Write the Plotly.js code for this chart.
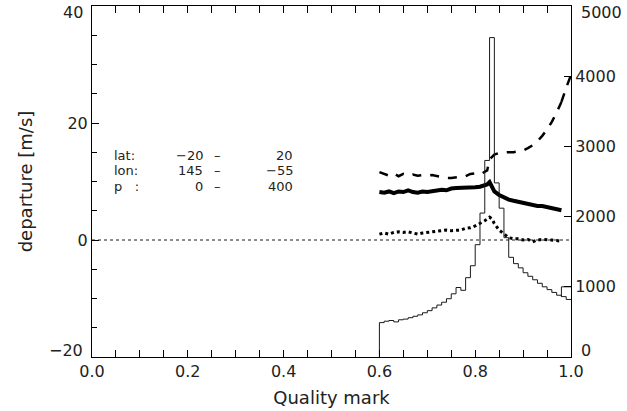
<!DOCTYPE html>
<html>
<head>
<meta charset="utf-8">
<script src="https://cdn.plot.ly/plotly-3.0.1.min.js"></script>
<style>html,body{margin:0;padding:0;background:#fff;}#chart{width:627px;height:411px;}</style>
</head>
<body>
<div id="chart"></div>
<script>
// Histogram: bin edges (width 0.01) and counts per bin (right axis)
const histEdges = [0.60,0.61,0.62,0.63,0.64,0.65,0.66,0.67,0.68,0.69,0.70,0.71,0.72,0.73,0.74,0.75,0.76,0.77,0.78,0.79,0.80,0.81,0.82,0.83,0.84,0.85,0.86,0.87,0.88,0.89,0.90,0.91,0.92,0.93,0.94,0.95,0.96,0.97,0.98,0.99,1.00];
const histCounts = [490,510,520,500,530,540,560,580,600,630,660,700,740,780,830,900,990,950,1130,1300,1600,2050,2800,4550,2480,2120,1700,1420,1330,1270,1200,1150,1100,1050,1000,960,920,880,860,820];
const lastBinX = [0.98,0.98,1.00];
const lastBinY = [860,1000,1000];

// Departure curves (left axis)
const qx = [0.60,0.61,0.62,0.63,0.64,0.65,0.66,0.67,0.68,0.69,0.70,0.71,0.72,0.73,0.74,0.75,0.76,0.77,0.78,0.79,0.80,0.81,0.82,0.825,0.83,0.835,0.84,0.85,0.86,0.87,0.88,0.89,0.90,0.91,0.92,0.93,0.94,0.95,0.96,0.97,0.98];
const dashedY = [11.6,11.3,11.0,11.4,10.9,11.3,11.0,11.2,11.0,11.1,11.0,11.1,10.9,10.7,10.6,10.6,10.7,10.8,10.9,11.3,11.4,11.2,11.6,11.9,13.8,14.3,14.6,14.9,15.0,15.0,15.0,15.1,15.3,15.7,16.2,16.9,17.8,18.9,20.2,21.8,23.6];
const dashedTailX = [0.98,0.99,1.00];
const dashedTailY = [23.6,26.0,28.2];
const solidY = [8.2,8.1,8.3,8.0,8.3,8.2,8.5,8.2,8.1,8.3,8.2,8.3,8.4,8.6,8.5,8.8,8.9,8.9,9.0,9.0,9.0,9.1,9.3,9.5,9.9,9.2,8.3,7.7,7.2,6.9,6.7,6.5,6.3,6.1,6.0,5.8,5.8,5.6,5.5,5.3,5.1];
const dottedY = [1.0,1.2,1.0,1.3,1.4,1.3,1.4,1.2,1.0,1.2,1.3,1.3,1.5,1.5,1.7,1.6,1.7,1.7,2.0,2.1,2.4,2.8,3.3,3.6,3.9,3.6,2.8,1.7,1.0,0.4,0.2,0.2,0.0,0.1,-0.3,0.0,0.1,0.1,0.0,-0.1,-0.2];
const zeroX = [0,1];
const zeroY = [0,0];

// Axis tick labels
const xTicks = [0,0.2,0.4,0.6,0.8,1.0];
const xTickText = ['0.0','0.2','0.4','0.6','0.8','1.0'];
const yTicks = [-20,0,20,40];
const yTickText = ['\u221220','0','20','40'];
const y2Ticks = [0,1000,2000,3000,4000,5000];
const y2TickText = ['0','1000','2000','3000','4000','5000'];

// Info text block
const infoLabels = ["lat:","lon:","p &nbsp;&nbsp;:"];
const infoFrom = ["\u221220","145","0"];
const infoTo = ["20","\u221255","400"];
const infoY = [14.5,11.8,9.1];

const histX = [histEdges[0]].concat(histEdges);
const histY = [0].concat(histCounts, [histCounts[histCounts.length-1]]);

const ink = '#1a1a1a';
const traces = [
  {x: zeroX, y: zeroY, mode:'lines', line:{color:ink, width:1, dash:'dot'}, yaxis:'y', hoverinfo:'skip'},
  {x: histX, y: histY, mode:'lines', line:{color:ink, width:1, shape:'hv'}, yaxis:'y2'},
  {x: lastBinX, y: lastBinY, mode:'lines', line:{color:ink, width:1}, yaxis:'y2'},
  {x: qx, y: dashedY, mode:'lines', line:{color:'#000', width:2.5, dash:'dash'}, yaxis:'y'},
  {x: dashedTailX, y: dashedTailY, mode:'lines', line:{color:'#000', width:2.5, dash:'dash', shape:'spline'}, yaxis:'y'},
  {x: qx, y: solidY, mode:'lines', line:{color:'#000', width:4}, yaxis:'y'},
  {x: qx, y: dottedY, mode:'lines', line:{color:'#000', width:3, dash:'dot'}, yaxis:'y'}
];

const fam = '"DejaVu Sans ExtraLight", "DejaVu Sans", Verdana, sans-serif';
const txtCol = '#222';
const tickFont = {family:fam, size:16, color:txtCol};
const infoFont = {family:fam, size:13, color:txtCol};
const annotations = [];
for (let i=0;i<3;i++){
  annotations.push({x:0.042, y:infoY[i], xref:'x', yref:'y', text:infoLabels[i], showarrow:false, xanchor:'left', yanchor:'middle', font:infoFont});
  annotations.push({x:0.236, y:infoY[i], xref:'x', yref:'y', text:infoFrom[i], showarrow:false, xanchor:'right', yanchor:'middle', font:infoFont});
  annotations.push({x:0.263, y:infoY[i], xref:'x', yref:'y', text:'\u2013', showarrow:false, xanchor:'center', yanchor:'middle', font:infoFont});
  annotations.push({x:0.424, y:infoY[i], xref:'x', yref:'y', text:infoTo[i], showarrow:false, xanchor:'right', yanchor:'middle', font:infoFont});
}
// end-of-axis tick labels, nudged inward as in the reference
annotations.push({x:-0.015, y:0.982, xref:'paper', yref:'paper', text:yTickText[3], showarrow:false, xanchor:'right', yanchor:'middle', font:tickFont});
annotations.push({x:-0.015, y:0.018, xref:'paper', yref:'paper', text:yTickText[0], showarrow:false, xanchor:'right', yanchor:'middle', font:tickFont});
annotations.push({x:1.017, y:0.982, xref:'paper', yref:'paper', text:y2TickText[5], showarrow:false, xanchor:'left', yanchor:'middle', font:tickFont});
annotations.push({x:1.017, y:0.018, xref:'paper', yref:'paper', text:y2TickText[0], showarrow:false, xanchor:'left', yanchor:'middle', font:tickFont});

const yTT = yTickText.map((t,i)=> (i===0||i===yTickText.length-1)?'':t);
const y2TT = y2TickText.map((t,i)=> (i===0||i===y2TickText.length-1)?'':t);

const layout = {
  width:627, height:411,
  margin:{l:92, r:56, t:6, b:54},
  paper_bgcolor:'#fff', plot_bgcolor:'#fff',
  showlegend:false,
  font: tickFont,
  xaxis:{range:[0,1], tickvals:xTicks, ticktext:xTickText,
    ticks:'inside', ticklen:7, tickcolor:'#000', showline:true, linecolor:'#000', linewidth:1, mirror:'allticks',
    showgrid:false, zeroline:false, minor:{dtick:0.05, tick0:0, ticks:'inside', ticklen:4, tickcolor:'#000'},
    title:{text:'Quality mark', font:{family:fam, size:18, color:txtCol}, standoff:11}, tickfont:tickFont, ticklabeloverflow:'allow'},
  yaxis:{range:[-20,40], tickvals:yTicks, ticktext:yTT,
    ticks:'inside', ticklen:7, tickcolor:'#000', showline:true, linecolor:'#000', linewidth:1,
    showgrid:false, zeroline:false, minor:{dtick:5, tick0:0, ticks:'inside', ticklen:5, tickcolor:'#000'},
    title:{text:'departure [m/s]', font:{family:fam, size:18, color:txtCol}, standoff:30}, tickfont:tickFont},
  yaxis2:{range:[0,5000], overlaying:'y', side:'right', tickvals:y2Ticks, ticktext:y2TT,
    ticks:'inside', ticklen:7, tickcolor:'#000', showline:true, linecolor:'#000', linewidth:1,
    showgrid:false, zeroline:false, tickfont:tickFont},
  annotations: annotations
};

Plotly.newPlot('chart', traces, layout, {staticPlot:true, displayModeBar:false});
</script>
</body>
</html>
